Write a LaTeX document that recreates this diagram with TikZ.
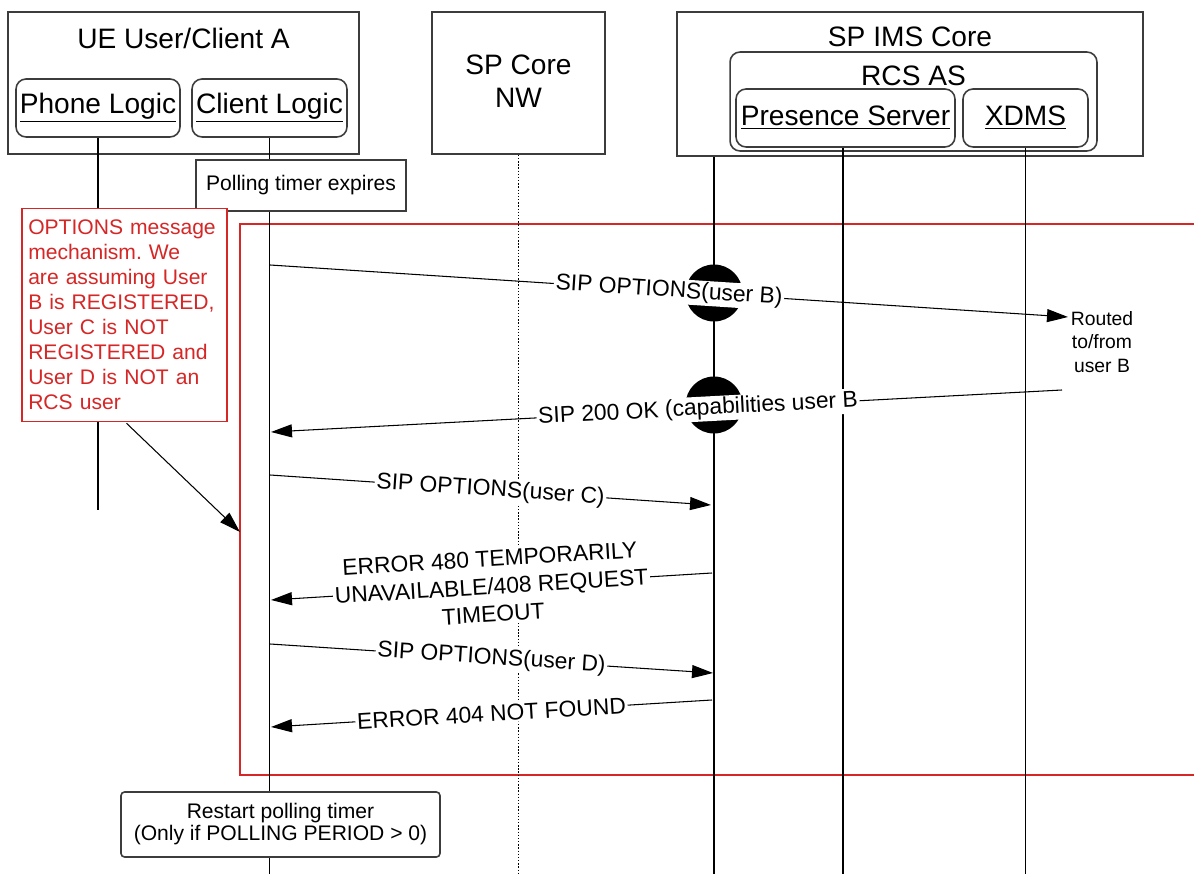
\documentclass[tikz,border=0pt]{standalone}
\usepackage{fontspec}
\setmainfont{Liberation Sans}
\usetikzlibrary{arrows.meta}
\definecolor{notered}{RGB}{214,38,38}
\definecolor{boxgray}{RGB}{60,60,60}
\frenchspacing

\begin{document}
\begin{tikzpicture}[x=0.02cm,y=-0.02cm,
  hdr/.style={draw=boxgray,line width=0.9pt,fill=white,inner sep=0pt},
  sub/.style={hdr,rounded corners=0.2cm,minimum height=1.16cm,font=\fontsize{16}{19}\selectfont},
  msg/.style={line width=0.6pt,-{Triangle[length=0.42cm,width=0.26cm]}},
  lbl/.style={fill=white,inner sep=1pt,sloped,align=center,font=\fontsize{13}{15.8}\selectfont},
  life/.style={line width=0.8pt}]
\useasboundingbox (0,0) rectangle (1194,874);

% red frame behind everything
\draw[notered,line width=0.9pt] (240,224) rectangle (1215,775);

% headers
\node[hdr,minimum width=7.02cm,minimum height=2.84cm] (ue) at (183.5,83) {};
\node[font=\fontsize{16}{19}\selectfont] (uetitle) at (183.5,38) {UE User/Client A};
\node[sub,minimum width=3.28cm] (phone) at (98,108) {\underline{Phone Logic}};
\node[sub,minimum width=3.1cm] (client) at (269.5,108) {\underline{Client Logic}};

\node[hdr,minimum width=3.46cm,minimum height=2.84cm] (core) at (518.5,83) {};
\node[align=center,font=\fontsize{16}{19}\selectfont] (coretitle) at (518.5,81) {SP Core\\NW};

\node[hdr,minimum width=9.32cm,minimum height=2.88cm] (ims) at (910,84) {};
\node[font=\fontsize{16}{19}\selectfont] (imstitle) at (910,37) {SP IMS Core};
\node[hdr,rounded corners=0.2cm,minimum width=7.34cm,minimum height=1.98cm] (rcs) at (913.5,101.5) {};
\node[font=\fontsize{16}{19}\selectfont] (rcstitle) at (913.5,76) {RCS AS};
\node[sub,minimum width=4.38cm] (pres) at (845.5,118) {\underline{Presence Server}};
\node[sub,minimum width=2.5cm] (xdms) at (1025.5,118) {\underline{XDMS}};

% lifelines
\coordinate (phoneend) at (98,510);
\coordinate (clientend) at (269.5,874);
\coordinate (coreend) at (518.5,874);
\coordinate (imsend) at (714,874);
\coordinate (presend) at (843,874);
\coordinate (xdmsend) at (1025.5,874);
\draw[life] (phone.south) -- (phoneend);
\draw[life] (client.south) -- (clientend);
\draw[life,densely dotted] (core.south) -- (coreend);
\draw[life] (ims.south -| imsend) -- (imsend);
\draw[life] (pres.south -| presend) -- (presend);
\draw[life] (xdms.south) -- (xdmsend);

% boxes on the lifelines
\node[draw=boxgray,line width=0.9pt,fill=white,minimum width=4.2cm,minimum height=1.02cm,font=\fontsize{12}{14}\selectfont] (poll) at (301,185.5) {Polling timer expires};
\node[draw=boxgray,line width=0.9pt,fill=white,rounded corners=2pt,minimum width=6.38cm,minimum height=1.3cm,align=center,font=\fontsize{12}{12.5}\selectfont] (restart) at (280.5,824.5) {Restart polling timer\\(Only if POLLING PERIOD > 0)};

\node[draw=notered,line width=0.9pt,fill=white,text=notered,minimum width=4.1cm,minimum height=4.26cm,text width=3.85cm,align=left,inner sep=0pt,font=\fontsize{12}{14.2}\selectfont] (note) at (124.5,315) {OPTIONS message\\mechanism. We\\are assuming User\\B is REGISTERED,\\User C is NOT\\REGISTERED and\\User D is NOT an\\RCS user};
\coordinate (frameleft) at (240,532);
\draw[msg] (note.south) ++(2,1) coordinate (notefoot) -- (frameleft);

% far end
\node[align=center,font=\fontsize{11}{13.6}\selectfont] (routed) at (1102,342) {Routed\\to/from\\user B};

% blobs on the IMS core line
\fill (714,293) circle [radius=0.57cm];
\fill (714,405) circle [radius=0.57cm];

% messages
\coordinate (a1) at (270,265);
\coordinate (b1) at (1068,317);
\coordinate (b2) at (1062,390);
\coordinate (a2) at (271,432);
\coordinate (a3) at (270,475);
\coordinate (b3) at (711,505);
\coordinate (b4) at (712,573);
\coordinate (a4) at (271,600);
\coordinate (a5) at (270,644);
\coordinate (b5) at (713,673);
\coordinate (b6) at (712,700);
\coordinate (a6) at (271,727);

\draw[msg] (a1) -- node[lbl] {SIP OPTIONS(user B)} (b1);
\draw[msg] (b2) -- node[lbl,pos=0.46] {SIP 200 OK (capabilities user B} (a2);
\draw[msg] (a3) -- node[lbl] {SIP OPTIONS(user C)} (b3);
\draw[msg] (b4) -- node[lbl] {ERROR 480 TEMPORARILY\\UNAVAILABLE/408 REQUEST\\TIMEOUT} (a4);
\draw[msg] (a5) -- node[lbl] {SIP OPTIONS(user D)} (b5);
\draw[msg] (b6) -- node[lbl] {ERROR 404 NOT FOUND} (a6);
\end{tikzpicture}
\end{document}
